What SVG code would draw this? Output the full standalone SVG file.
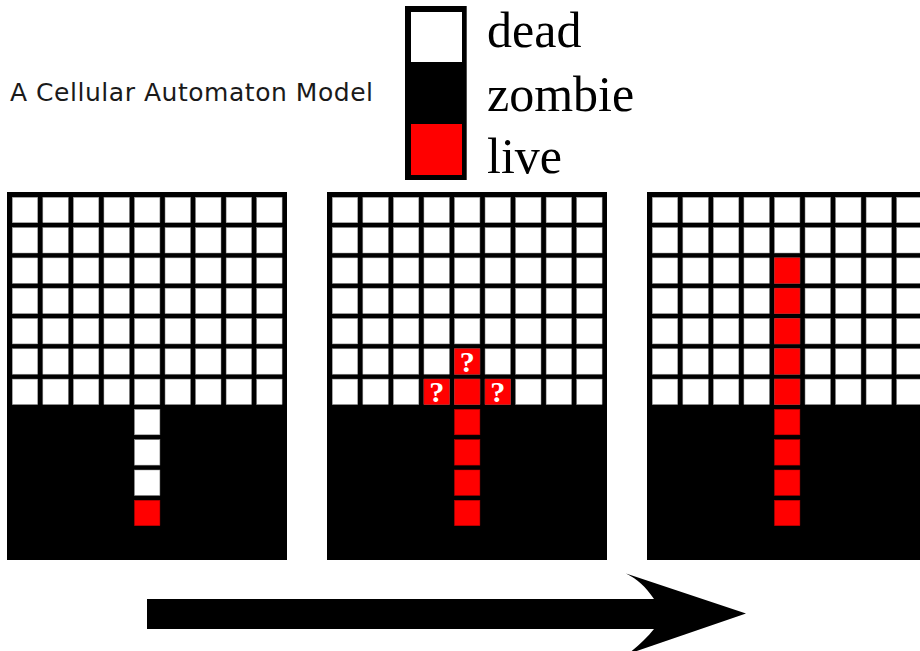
<svg xmlns="http://www.w3.org/2000/svg" xmlns:xlink="http://www.w3.org/1999/xlink" width="920" height="651" viewBox="0 0 920 651">
  <style>
    .title { font-family: "DejaVu Sans", "Liberation Sans", sans-serif; font-size: 25px; fill: #1a1a1a; }
    .legend { font-family: "Liberation Serif", "Times New Roman", serif; font-size: 50px; fill: #000; }
    .q { font-family: "Liberation Serif", "Times New Roman", serif; font-weight: bold; font-size: 30px; fill: #fff; text-anchor: middle; }
    .board { fill: #000; }
    .dead { fill: #fff; stroke: #999; stroke-width: 0.5; }
    .live { fill: #f00; stroke: #b00; stroke-width: 0.5; }
  </style>
  <defs>
    <rect id="cell-dead" class="dead" width="25.4" height="25.4"/>
    <rect id="cell-live" class="live" width="25.4" height="25.4"/>
    <!-- upper 7 rows of dead cells, 9 columns -->
    <g id="dead-rows">
      <g id="dead-row">
        <use xlink:href="#cell-dead" x="5.3" y="5.3"/>
        <use xlink:href="#cell-dead" x="35.85" y="5.3"/>
        <use xlink:href="#cell-dead" x="66.4" y="5.3"/>
        <use xlink:href="#cell-dead" x="96.95" y="5.3"/>
        <use xlink:href="#cell-dead" x="127.5" y="5.3"/>
        <use xlink:href="#cell-dead" x="158.05" y="5.3"/>
        <use xlink:href="#cell-dead" x="188.6" y="5.3"/>
        <use xlink:href="#cell-dead" x="219.15" y="5.3"/>
        <use xlink:href="#cell-dead" x="249.7" y="5.3"/>
      </g>
      <use xlink:href="#dead-row" y="30.3"/>
      <use xlink:href="#dead-row" y="60.6"/>
      <use xlink:href="#dead-row" y="90.9"/>
      <use xlink:href="#dead-row" y="121.2"/>
      <use xlink:href="#dead-row" y="151.5"/>
      <use xlink:href="#dead-row" y="181.8"/>
    </g>
  </defs>

  <rect width="920" height="651" fill="#fff"/>

  <text id="title" class="title" x="10" y="101" textLength="363" lengthAdjust="spacing">A Cellular Automaton Model</text>

  <!-- legend -->
  <g id="legend">
    <rect x="405" y="6" width="61.7" height="174" fill="#000"/>
    <rect x="411" y="12" width="51" height="50" fill="#fff"/>
    <rect x="411" y="124" width="51" height="51" fill="#f00"/>
    <text class="legend" x="487" y="47">dead</text>
    <text class="legend" x="487" y="111">zombie</text>
    <text class="legend" x="487" y="173">live</text>
  </g>

  <!-- generation 1 -->
  <g id="grid-1" transform="translate(7,192)">
    <rect class="board" width="280" height="368"/>
    <use xlink:href="#dead-rows"/>
    <use xlink:href="#cell-dead" x="127.5" y="217.4"/>
    <use xlink:href="#cell-dead" x="127.5" y="247.7"/>
    <use xlink:href="#cell-dead" x="127.5" y="278"/>
    <use xlink:href="#cell-live" x="127.5" y="308.3"/>
  </g>

  <!-- generation 2 -->
  <g id="grid-2" transform="translate(327,192)">
    <rect class="board" width="280" height="368"/>
    <use xlink:href="#dead-rows"/>
    <use xlink:href="#cell-live" x="127.5" y="156.8"/>
    <use xlink:href="#cell-live" x="96.95" y="187.1"/>
    <use xlink:href="#cell-live" x="127.5" y="187.1"/>
    <use xlink:href="#cell-live" x="158.05" y="187.1"/>
    <use xlink:href="#cell-live" x="127.5" y="217.4"/>
    <use xlink:href="#cell-live" x="127.5" y="247.7"/>
    <use xlink:href="#cell-live" x="127.5" y="278"/>
    <use xlink:href="#cell-live" x="127.5" y="308.3"/>
    <text class="q" x="140.2" y="179.5">?</text>
    <text class="q" x="109.65" y="209.8">?</text>
    <text class="q" x="170.75" y="209.8">?</text>
  </g>

  <!-- generation 3 -->
  <g id="grid-3" transform="translate(647,192)">
    <rect class="board" width="280" height="368"/>
    <use xlink:href="#dead-rows"/>
    <use xlink:href="#cell-live" x="127.5" y="65.9"/>
    <use xlink:href="#cell-live" x="127.5" y="96.2"/>
    <use xlink:href="#cell-live" x="127.5" y="126.5"/>
    <use xlink:href="#cell-live" x="127.5" y="156.8"/>
    <use xlink:href="#cell-live" x="127.5" y="187.1"/>
    <use xlink:href="#cell-live" x="127.5" y="217.4"/>
    <use xlink:href="#cell-live" x="127.5" y="247.7"/>
    <use xlink:href="#cell-live" x="127.5" y="278"/>
    <use xlink:href="#cell-live" x="127.5" y="308.3"/>
  </g>

  <!-- time arrow -->
  <g id="connectors">
    <path id="time-arrow" fill="#000" d="M147,599 L654,599 C646,587 637,579 626,573.5 L746,613.5 L628,654 C638,646 647,638 654,629 L147,629 Z"/>
  </g>
</svg>
